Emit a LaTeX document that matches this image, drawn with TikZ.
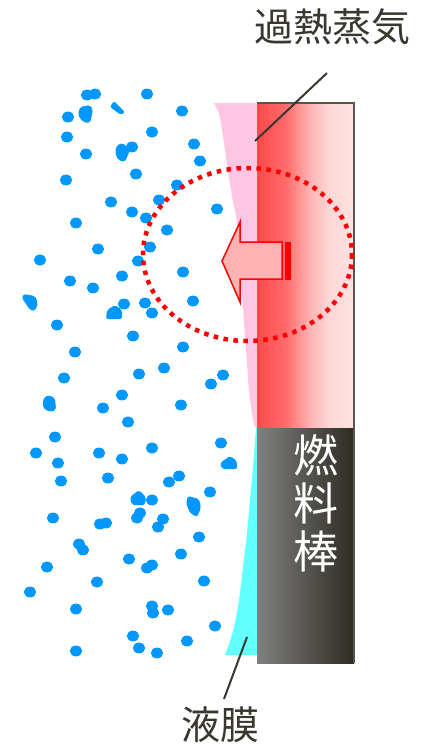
\documentclass[tikz,border=0pt]{standalone}
\usepackage{fontspec}
\newfontfamily\jpfont{Noto Sans CJK JP}
\definecolor{inkgray}{RGB}{58,55,47}
\definecolor{dotblue}{RGB}{0,152,255}
\definecolor{steampink}{RGB}{255,198,228}
\definecolor{filmcyan}{RGB}{100,255,255}
\definecolor{hotA}{RGB}{255,72,72}
\definecolor{hotB}{RGB}{255,108,108}
\definecolor{hotC}{RGB}{255,178,178}
\definecolor{hotD}{RGB}{255,214,214}
\definecolor{hotE}{RGB}{255,226,226}
\definecolor{rodgrayL}{RGB}{128,128,128}
\definecolor{rodgrayR}{RGB}{46,43,34}
\definecolor{arrowedge}{RGB}{255,0,0}
\definecolor{arrowpale}{RGB}{255,224,224}
\definecolor{arrowpink}{RGB}{255,178,178}
\pgfdeclarehorizontalshading{hotrod}{100bp}{color(0bp)=(hotA); color(25bp)=(hotA); color(40bp)=(hotB); color(52bp)=(hotC); color(62bp)=(hotD); color(75bp)=(hotE); color(100bp)=(hotE)}
\begin{document}
\begin{tikzpicture}[x=1pt,y=-1pt,
  lbl/.style={inner sep=0pt, text=inkgray, font=\jpfont\fontsize{39}{39}\selectfont},
  rodlbl/.style={inner sep=0pt, text=white, align=center, font=\jpfont\fontsize{45}{48}\selectfont},
  leader/.style={draw=inkgray, line width=2pt},
  drop/.style={fill=dotblue},
  blob/.style={fill=dotblue, rounded corners=2pt}]
\useasboundingbox (0,0) rectangle (429,747);

% vapour layer along the hot part of the wall
\fill[steampink] plot[smooth, tension=0.6] coordinates {(256,428) (253,420) (249,390) (247,363) (245,335) (243,307) (241,280) (239,248) (237,222) (232,196) (228,172) (225,150) (222,130) (219,114) (214,103)} -- (258,103) -- (258,428) -- cycle;

% liquid film along the lower part of the wall
\fill[filmcyan] plot[smooth, tension=0.6] coordinates {(256,428) (253,467) (250,500) (247,533) (243,567) (239,600) (234,627) (228,647) (225,655)} -- (258,655) -- (258,428) -- cycle;

% fuel rod: heated upper part and grey lower part
\shade[shading=hotrod] (257,103) rectangle (354,428);
\shade[left color=rodgrayL, right color=rodgrayR] (257,428) rectangle (354,663);
\draw[draw=inkgray!85, line width=1.3pt] (257,103) -- (354,103) -- (354,663);

% droplets in the coolant
\foreach \p in {(87,95),(95,94),(147,94),(68,117),(182,111),(67,137),(152,132),(86,154),(132,147),(194,144),(200,161),(66,180),(136,174),(177,185),(111,202),(159,200),(132,212),(146,218),(76,223),(167,230),(217,209),(98,249),(150,247),(40,260),(138,261),(183,272),(122,276),(70,281),
  (93,288),(124,304),(145,303),(152,313),(193,301),(57,325),(133,336),(183,347),(75,352),(64,378),(139,374),(164,368),(223,375),(211,384),(122,395),(103,408),(181,405),
  (128,422),(55,437),(36,453),(58,463),(99,453),(122,459),(152,448),(221,443),(61,481),(108,478),(169,482),(179,476),(210,492),(152,500),(53,518),(100,524),(106,523),(137,518),(140,513),(163,519),(158,527),(199,537),
  (79,544),(83,550),(47,567),(30,592),(97,582),(129,559),(147,568),(152,565),(181,554),(204,581),(76,609),(152,606),(153,613),(168,610),(215,626),(133,636),(187,641),(139,648),(157,653),(76,651)}
  \fill[drop] \p ellipse[x radius=6.2, y radius=5.4];

% irregular droplets
\fill[blob] (80,107) -- (90,105) -- (93,110) -- (90,123) -- (83,122) -- (78,115) -- cycle;
\fill[blob] (114,101) -- (125,112) -- (121,115) -- (110,107) -- cycle;
\fill[blob] (117,145) -- (123,143) -- (130,150) -- (125,162) -- (118,160) -- (115,152) -- cycle;
\fill[blob] (23,294) -- (35,296) -- (38,303) -- (35,311) -- (30,310) -- (22,298) -- cycle;
\fill[blob] (115,305) -- (122,310) -- (122,319) -- (106,319) -- (107,310) -- cycle;
\fill[blob] (48,395) -- (55,398) -- (56,410) -- (50,412) -- (43,408) -- (43,399) -- cycle;
\fill[blob] (230,456) -- (237,461) -- (237,469) -- (222,469) -- (220,463) -- cycle;
\fill[blob] (139,490) -- (146,497) -- (145,505) -- (132,505) -- (130,497) -- cycle;
\fill[blob] (188,496) -- (199,499) -- (201,508) -- (197,517) -- (190,513) -- (186,503) -- cycle;

% heat flow arrow out of the wall
\shade[top color=arrowpink, middle color=arrowpale, bottom color=arrowpink, draw=arrowedge, line width=1.5pt, line join=miter]
  (222,261) -- (240,222) -- (240,242) -- (282,242) -- (282,279) -- (240,279) -- (240,302) -- cycle;
\filldraw[fill=arrowedge, draw=arrowedge, line width=1pt] (285,242) rectangle (290,279);

% dotted ring round the heat transfer zone
\draw[arrowedge, line width=4.5pt, dash pattern=on 4.5pt off 5.5pt] (247.5,254.5) ellipse[x radius=104.5, y radius=86.5];

% labels and leaders
\node[lbl] (steam) at (332,27) {過熱蒸気};
\node[lbl] (film) at (220,725) {液膜};
\node[rodlbl] (rod) at (316,503) {燃\\料\\棒};
\coordinate (steamtip) at (327,73);
\coordinate (steamwall) at (255,141);
\coordinate (filmtip) at (224,699);
\coordinate (filmwall) at (247,637);
\draw[leader] (steamtip) -- (steamwall);
\draw[leader] (filmtip) -- (filmwall);
\end{tikzpicture}
\end{document}
